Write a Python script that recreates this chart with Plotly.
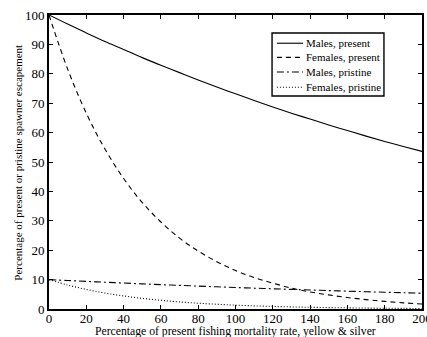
import plotly.graph_objects as go

x_vals = [0, 10, 20, 30, 40, 50, 60, 70, 80, 90, 100, 110, 120, 130, 140, 150, 160, 170, 180, 190, 200]
males_present = [100, 96.9, 93.9, 91.0, 88.3, 85.5, 82.9, 80.4, 77.9, 75.5, 73.2, 70.9, 68.7, 66.6, 64.6, 62.6, 60.7, 58.8, 57.0, 55.3, 53.6]
females_present = [100, 81.6, 66.6, 54.4, 44.4, 36.2, 29.6, 24.1, 19.7, 16.1, 13.1, 10.7, 8.8, 7.1, 5.8, 4.8, 3.9, 3.2, 2.6, 2.1, 1.7]
males_pristine = [10, 9.69, 9.39, 9.10, 8.83, 8.55, 8.29, 8.04, 7.79, 7.55, 7.32, 7.09, 6.87, 6.66, 6.46, 6.26, 6.07, 5.88, 5.70, 5.53, 5.36]
females_pristine = [10, 8.16, 6.66, 5.44, 4.44, 3.62, 2.96, 2.41, 1.97, 1.61, 1.31, 1.07, 0.88, 0.71, 0.58, 0.48, 0.39, 0.32, 0.26, 0.21, 0.17]
x_ticks = [0, 20, 40, 60, 80, 100, 120, 140, 160, 180, 200]
y_ticks = [0, 10, 20, 30, 40, 50, 60, 70, 80, 90, 100]
x_title = "Percentage of present fishing mortality rate, yellow & silver"
y_title = "Percentage of present or pristine spawner escapement"

series = [
    ("Males, present", males_present, "solid"),
    ("Females, present", females_present, "5px,4px"),
    ("Males, pristine", males_pristine, "7px,3px,2px,3px"),
    ("Females, pristine", females_pristine, "1px,2px"),
]

FONT = "Liberation Serif, Times New Roman, serif"

fig = go.Figure()
for name, ys, dash in series:
    fig.add_trace(go.Scatter(
        x=x_vals, y=ys, name=name, mode="lines", showlegend=False,
        line=dict(color="black", width=1.1, dash=dash, shape="spline"),
    ))

# Legend box drawn as shapes + text (compact row spacing like the original)
fig.add_shape(type="rect", xref="paper", yref="paper",
              x0=0.598, x1=0.898, y0=0.7245, y1=0.939,
              line=dict(color="black", width=1.4), fillcolor="white", layer="above")
row_y = [0.904, 0.856, 0.806, 0.754]
for (name, _, dash), yy in zip(series, row_y):
    fig.add_shape(type="line", xref="paper", yref="paper",
                  x0=0.611, x1=0.681, y0=yy, y1=yy, layer="above",
                  line=dict(color="black", width=1.1, dash=dash))
    fig.add_annotation(xref="paper", yref="paper", x=0.684, y=yy,
                       xanchor="left", yanchor="middle", showarrow=False,
                       text=name, font=dict(family=FONT, size=11, color="black"))

# Axis titles
fig.add_annotation(xref="paper", yref="paper", x=0.501, y=-0.077,
                   xanchor="center", yanchor="middle", showarrow=False,
                   text=x_title, font=dict(family=FONT, size=11.7, color="black"))
fig.add_annotation(xref="paper", yref="paper", x=-0.083, y=0.498,
                   xanchor="center", yanchor="middle", showarrow=False, textangle=-90,
                   text=y_title, font=dict(family=FONT, size=11, color="black"))

fig.update_layout(
    width=427, height=337,
    margin=dict(l=49, r=5, t=15, b=28, autoexpand=False),
    paper_bgcolor="white", plot_bgcolor="white",
    font=dict(family=FONT, size=12, color="black"),
    showlegend=False,
    xaxis=dict(
        range=[0, 200], tickvals=x_ticks, automargin=False,
        showgrid=False, zeroline=False,
        showline=True, linecolor="black", linewidth=1.6, mirror="allticks",
        ticks="inside", ticklen=4, tickcolor="black", tickwidth=1,
        ticklabeloverflow="allow", ticklabelstandoff=-3,
        tickfont=dict(family=FONT, size=13, color="black"),
    ),
    yaxis=dict(
        range=[0, 100], tickvals=y_ticks, automargin=False,
        showgrid=False, zeroline=False,
        showline=True, linecolor="black", linewidth=1.6, mirror="allticks",
        ticks="inside", ticklen=4, tickcolor="black", tickwidth=1,
        ticklabeloverflow="allow",
        tickfont=dict(family=FONT, size=13, color="black"),
    ),
)

fig.write_html("out.html", config={"displayModeBar": False},
               post_script="document.body.style.margin='0';")
